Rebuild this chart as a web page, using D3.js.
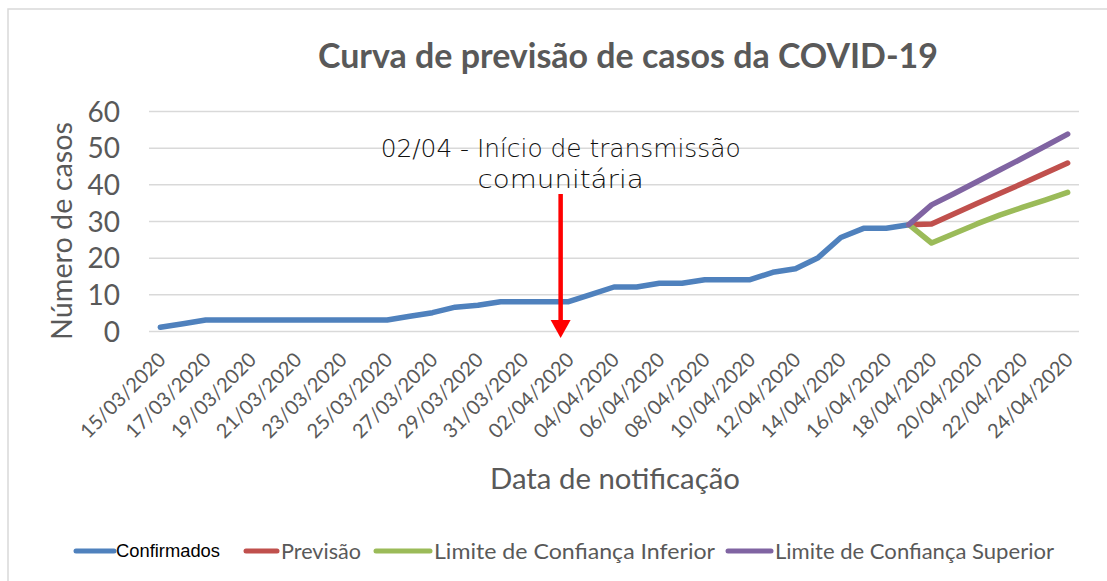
<!DOCTYPE html>
<html>
<head>
<meta charset="utf-8">
<script src="https://cdn.jsdelivr.net/npm/d3@7"></script>
<style>
  body { margin: 0; background: #fff; }
  svg { display: block; }
</style>
</head>
<body>
<script>
const width = 1107, height = 581;

// dates shown on the category axis (one per day)
const dates = [
  "15/03/2020","16/03/2020","17/03/2020","18/03/2020","19/03/2020","20/03/2020","21/03/2020",
  "22/03/2020","23/03/2020","24/03/2020","25/03/2020","26/03/2020","27/03/2020","28/03/2020",
  "29/03/2020","30/03/2020","31/03/2020","01/04/2020","02/04/2020","03/04/2020","04/04/2020",
  "05/04/2020","06/04/2020","07/04/2020","08/04/2020","09/04/2020","10/04/2020","11/04/2020",
  "12/04/2020","13/04/2020","14/04/2020","15/04/2020","16/04/2020","17/04/2020","18/04/2020",
  "19/04/2020","20/04/2020","21/04/2020","22/04/2020","23/04/2020","24/04/2020"
]
// 15/03 -> 17/04
const confirmados = [1, 2, 3, 3, 3, 3, 3, 3, 3, 3, 3, 4, 5, 6.5, 7, 8, 8, 8, 8, 10, 12, 12, 13, 13,
  14, 14, 14, 16, 17, 20, 25.5, 28, 28, 29]
// 17/04 -> 24/04
const previsao = [29, 29.2, 32, 34.8, 37.5, 40.2, 43, 45.8]
const limInferior = [29, 24, 26.6, 29.2, 31.6, 33.7, 35.7, 37.8]
const limSuperior = [29, 34.4, 37.5, 40.7, 43.9, 47.1, 50.4, 53.7]
const yTicks = [0, 10, 20, 30, 40, 50, 60]

const series = [
  { name: "Confirmados", color: "#4f81bd", start: 0, values: confirmados },
  { name: "Previsão", color: "#c0504d", start: 33, values: previsao },
  { name: "Limite de Confiança Inferior", color: "#9bbb59", start: 33, values: limInferior },
  { name: "Limite de Confiança Superior", color: "#8064a2", start: 33, values: limSuperior }
]

const gray = "#595959"
const plotLeft = 149, plotRight = 1079, plotTop = 111, plotBottom = 331

const svg = d3.select("body").append("svg")
  .attr("width", width)
  .attr("height", height)

// outer chart border (cut at right and bottom like the original)
svg.append("rect")
  .attr("x", 8).attr("y", 9)
  .attr("width", width + 10).attr("height", height + 10)
  .attr("fill", "none")
  .attr("stroke", "#d9d9d9")
  .attr("stroke-width", 1.5)

const x = d3.scalePoint()
  .domain(dates)
  .range([plotLeft, plotRight])
  .padding(0.5)

const y = d3.scaleLinear()
  .domain([0, 60])
  .range([plotBottom, plotTop])

// gridlines
svg.append("g")
  .attr("transform", `translate(${plotLeft},0)`)
  .call(d3.axisLeft(y).tickValues(yTicks).tickSize(-(plotRight - plotLeft)).tickFormat(""))
  .call(g => g.select(".domain").remove())
  .call(g => g.selectAll("line").attr("stroke", "#d9d9d9").attr("stroke-width", 1.5))

// y axis labels
svg.append("g")
  .attr("transform", `translate(${plotLeft},0)`)
  .call(d3.axisLeft(y).tickValues(yTicks).tickSize(0).tickPadding(29))
  .call(g => g.select(".domain").remove())
  .call(g => g.selectAll("text")
    .attr("fill", gray)
    .attr("font-family", "Lato, sans-serif")
    .attr("font-size", 28)
    .attr("dy", "0.36em"))

// x axis labels, every second day
svg.append("g")
  .attr("transform", `translate(0,${plotBottom})`)
  .call(d3.axisBottom(x).tickValues(dates.filter((d, i) => i % 2 == 0)).tickSize(0))
  .call(g => g.select(".domain").remove())
  .call(g => g.selectAll("text")
    .attr("fill", gray)
    .attr("font-family", "Lato, sans-serif")
    .attr("font-size", 20)
    .attr("text-anchor", "end")
    .attr("y", 0).attr("dy", 0)
    .attr("transform", "translate(6,30) rotate(-45)"))

// lines
const line = d3.line()
  .x(d => x(d.date))
  .y(d => y(d.value))

series.forEach(s => {
  const pts = s.values.map((v, i) => ({ date: dates[s.start + i], value: v }))
  svg.append("path")
    .datum(pts)
    .attr("fill", "none")
    .attr("stroke", s.color)
    .attr("stroke-width", 5.5)
    .attr("stroke-linecap", "round")
    .attr("stroke-linejoin", "round")
    .attr("d", line)
})

// title
svg.append("text")
  .attr("x", 628).attr("y", 68)
  .attr("text-anchor", "middle")
  .attr("fill", gray)
  .attr("font-family", "Lato, sans-serif")
  .attr("font-weight", "bold")
  .attr("font-size", 34)
  .attr("textLength", 620)
  .attr("lengthAdjust", "spacingAndGlyphs")
  .text("Curva de previsão de casos da COVID-19")

// axis titles
svg.append("text")
  .attr("transform", `translate(72,${(plotTop + plotBottom) / 2 + 10}) rotate(-90)`)
  .attr("text-anchor", "middle")
  .attr("fill", gray)
  .attr("font-family", "Lato, sans-serif")
  .attr("font-size", 29)
  .attr("textLength", 218)
  .attr("lengthAdjust", "spacingAndGlyphs")
  .text("Número de casos")

svg.append("text")
  .attr("x", 615).attr("y", 489)
  .attr("text-anchor", "middle")
  .attr("fill", gray)
  .attr("font-family", "Lato, sans-serif")
  .attr("font-size", 29.5)
  .attr("textLength", 250)
  .attr("lengthAdjust", "spacingAndGlyphs")
  .text("Data de notificação")

// annotation: 02/04 start of community transmission
const ax = x("02/04/2020") - 8
const note = svg.append("text")
  .attr("x", ax).attr("y", 157)
  .attr("text-anchor", "middle")
  .attr("fill", "#111")
  .attr("font-family", "'DejaVu Sans', sans-serif")
  .attr("font-weight", 300)
  .attr("font-size", 25)
note.append("tspan").attr("x", ax).attr("textLength", 360).attr("lengthAdjust", "spacingAndGlyphs")
  .text("02/04 - Início de transmissão")
note.append("tspan").attr("x", ax).attr("dy", 31).attr("textLength", 166).attr("lengthAdjust", "spacingAndGlyphs")
  .text("comunitária")

svg.append("line")
  .attr("x1", ax).attr("x2", ax)
  .attr("y1", 194).attr("y2", 322)
  .attr("stroke", "#ff0000")
  .attr("stroke-width", 4.5)
svg.append("path")
  .attr("d", `M${ax - 10},320 L${ax + 10},320 L${ax},338 Z`)
  .attr("fill", "#ff0000")

// legend
const legendItems = [
  { name: "Confirmados", color: "#4f81bd", x1: 76, x2: 114, tx: 116, tw: 104, font: "'Liberation Sans', Arial, sans-serif", fill: "#000", size: 17.5 },
  { name: "Previsão", color: "#c0504d", x1: 246, x2: 277, tx: 281, tw: 80, font: "Lato, sans-serif", fill: gray, size: 21.5 },
  { name: "Limite de Confiança Inferior", color: "#9bbb59", x1: 376, x2: 430, tx: 434, tw: 281, font: "Lato, sans-serif", fill: gray, size: 21.5 },
  { name: "Limite de Confiança Superior", color: "#8064a2", x1: 728, x2: 771, tx: 775, tw: 279, font: "Lato, sans-serif", fill: gray, size: 21.5 }
]
const legend = svg.append("g").attr("id", "legend")
const li = legend.selectAll("g").data(legendItems).enter().append("g")
li.append("line")
  .attr("x1", d => d.x1).attr("x2", d => d.x2)
  .attr("y1", 551).attr("y2", 551)
  .attr("stroke", d => d.color)
  .attr("stroke-width", 5)
  .attr("stroke-linecap", "round")
li.append("text")
  .attr("x", d => d.tx).attr("y", 551)
  .attr("dy", "0.35em")
  .attr("fill", d => d.fill)
  .attr("font-family", d => d.font)
  .attr("font-size", d => d.size)
  .attr("textLength", d => d.tw)
  .attr("lengthAdjust", "spacingAndGlyphs")
  .text(d => d.name)
</script>
</body>
</html>
